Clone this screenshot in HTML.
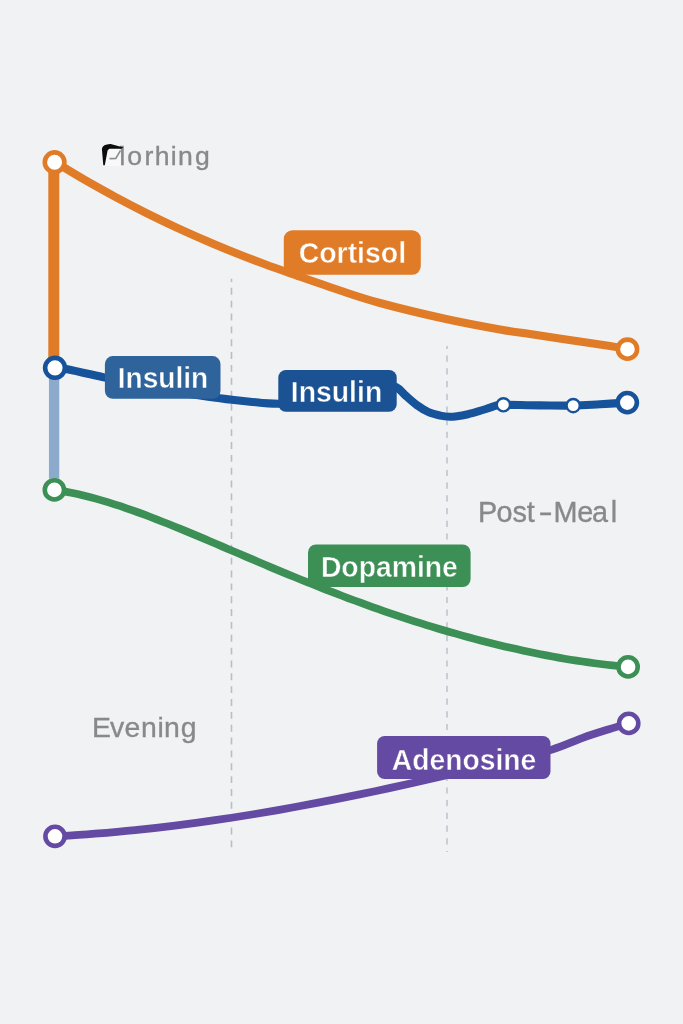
<!DOCTYPE html>
<html><head><meta charset="utf-8">
<style>
html,body{margin:0;padding:0;background:#f1f2f4;}
body{width:683px;height:1024px;overflow:hidden;}
svg{display:block}
text{font-family:"Liberation Sans",sans-serif;}
.lbl{font-weight:bold;font-size:30.4px;fill:#fff;}
.ax{font-size:28.4px;fill:#88888d;stroke:#88888d;stroke-width:0.35px;}
</style></head><body>
<svg width="683" height="1024" viewBox="0 0 683 1024">
<rect width="683" height="1024" fill="#f1f2f4"/>
<g stroke-width="1.6" fill="none">
<line x1="231.5" y1="278.8" x2="231.5" y2="852.2" stroke="#b5bec9" stroke-dasharray="6.9 5.95" stroke-dashoffset="3.8"/>
<line x1="447" y1="346" x2="447" y2="852" stroke="#bfc5cf" stroke-dasharray="6.2 6.5" stroke-dashoffset="3.1"/>
</g>
<!-- vertical connectors -->
<line x1="53.8" y1="165" x2="53.8" y2="367" stroke="#e07c28" stroke-width="11"/>
<line x1="54.1" y1="368" x2="54.1" y2="478.5" stroke="#8caacc" stroke-width="10.3"/>
<g fill="none" stroke-linecap="round" stroke-linejoin="round">
<path d="M55.0,162.0 C60.0,165.0 75.0,174.2 85.0,180.0 C95.0,185.7 105.0,191.3 115.0,196.7 C125.0,202.1 135.0,207.3 145.0,212.3 C155.0,217.3 165.0,222.1 175.0,226.8 C185.0,231.4 195.0,235.9 205.0,240.2 C215.0,244.6 225.0,248.7 235.0,252.7 C245.0,256.7 254.2,260.3 265.0,264.3 C275.8,268.3 287.5,272.3 300.0,276.7 C312.5,281.1 326.7,286.1 340.0,290.5 C353.3,294.9 362.3,298.2 380.0,303.0 C397.7,307.8 426.0,314.6 446.0,319.0 C466.0,323.4 486.0,327.0 500.0,329.5 C514.0,332.0 519.0,332.3 530.0,334.0 C541.0,335.7 552.7,337.6 566.0,339.6 C579.3,341.6 599.8,344.3 610.0,345.9 C620.2,347.5 624.6,348.6 627.5,349.2" stroke="#e07c28" stroke-width="8.1"/>
<path d="M55.0,367.8 C57.0,368.0 59.0,367.6 67.3,369.2 C75.6,370.8 91.1,374.5 104.9,377.6 C118.7,380.7 134.2,384.6 150.0,387.6 C165.8,390.6 188.3,393.8 200.0,395.6 C211.7,397.4 214.7,397.6 220.0,398.3 C225.3,399.0 227.0,399.2 232.0,399.8 C237.0,400.4 242.3,401.0 250.0,401.7 C257.7,402.4 266.7,403.8 278.4,403.8 C290.1,403.9 306.4,403.8 320.0,402.0 C333.6,400.2 349.2,395.7 360.0,393.0 C370.8,390.3 378.9,387.0 385.0,386.0 C391.1,385.0 393.0,385.7 396.4,387.2 C399.8,388.7 401.7,392.1 405.1,395.1 C408.5,398.1 413.0,402.3 416.9,405.1 C420.8,407.9 424.7,410.4 428.6,412.1 C432.5,413.9 436.7,414.8 440.3,415.6 C443.9,416.4 447.2,416.7 450.0,416.8 C452.8,416.9 454.0,416.6 457.0,416.2 C460.0,415.8 464.3,415.0 468.0,414.2 C471.7,413.4 475.3,412.3 479.0,411.2 C482.7,410.1 487.1,408.6 490.0,407.7 C492.9,406.8 494.2,406.0 496.4,405.5 C498.6,405.0 496.1,404.8 503.4,404.8 C510.7,404.8 528.4,405.3 540.0,405.4 C551.6,405.5 563.2,405.8 573.2,405.6 C583.2,405.4 591.0,404.7 600.0,404.2 C609.0,403.7 622.8,402.9 627.3,402.6" stroke="#17539a" stroke-width="8.1"/>
<path d="M54.5,489.9 L60.5,490.8 L66.5,491.9 L72.5,493.0 L78.5,494.3 L84.5,495.8 L90.5,497.3 L96.5,498.9 L102.5,500.6 L108.5,502.4 L114.5,504.3 L120.5,506.2 L126.5,508.3 L132.5,510.4 L138.5,512.5 L144.5,514.7 L150.5,517.0 L156.5,519.3 L162.5,521.7 L168.5,524.0 L174.5,526.5 L180.5,528.9 L186.5,531.4 L192.5,533.9 L198.5,536.4 L204.5,538.9 L210.5,541.5 L216.5,544.0 L222.5,546.6 L228.5,549.2 L234.5,551.7 L240.5,554.3 L246.5,556.9 L252.5,559.4 L258.5,562.0 L264.5,564.5 L270.5,567.1 L276.5,569.6 L282.5,572.1 L288.5,574.6 L294.5,577.0 L300.5,579.5 L306.5,581.9 L312.5,584.3 L318.5,586.7 L324.5,589.1 L330.5,591.4 L336.5,593.7 L342.5,596.0 L348.5,598.3 L354.5,600.5 L360.5,602.7 L366.5,604.9 L372.5,607.1 L378.5,609.2 L384.5,611.3 L390.5,613.3 L396.5,615.4 L402.5,617.4 L408.5,619.3 L414.5,621.3 L420.5,623.2 L426.5,625.1 L432.5,626.9 L438.5,628.7 L444.5,630.5 L450.5,632.2 L456.5,633.9 L462.5,635.6 L468.5,637.3 L474.5,638.9 L480.5,640.4 L486.5,642.0 L492.5,643.5 L498.5,644.9 L504.5,646.4 L510.5,647.8 L516.5,649.1 L522.5,650.5 L528.5,651.8 L534.5,653.0 L540.5,654.2 L546.5,655.4 L552.5,656.5 L558.5,657.6 L564.5,658.7 L570.5,659.7 L576.5,660.6 L582.5,661.5 L588.5,662.4 L594.5,663.2 L600.5,664.0 L606.5,664.7 L612.5,665.4 L618.5,666.0 L624.5,666.6 L628.1,666.9" stroke="#3c8f55" stroke-width="7.7"/>
<path d="M55.0,836.3 C58.3,836.1 68.3,835.6 75.0,835.1 C81.7,834.7 85.0,834.6 95.0,833.7 C105.0,832.9 121.7,831.5 135.0,830.1 C148.3,828.8 161.7,827.3 175.0,825.6 C188.3,823.9 201.7,822.1 215.0,820.2 C228.3,818.3 241.7,816.2 255.0,814.0 C268.3,811.8 281.7,809.4 295.0,807.0 C308.3,804.6 321.7,802.0 335.0,799.4 C348.3,796.8 361.7,794.0 375.0,791.2 C388.3,788.4 402.5,785.3 415.0,782.5 C427.5,779.7 435.8,777.7 450.0,774.5 C464.2,771.4 483.2,767.7 500.0,763.6 C516.8,759.5 536.7,754.4 550.5,750.1 C564.3,745.8 573.0,741.3 582.7,737.8 C592.5,734.3 601.3,731.6 609.0,729.2 C616.7,726.8 625.4,724.4 628.7,723.4" stroke="#654aa3" stroke-width="7.8"/>
</g>
<!-- markers -->
<g fill="#fff" stroke-width="4.6">
<circle cx="54.6" cy="162.2" r="9.8" stroke="#e07c28"/>
<circle cx="627.5" cy="349.2" r="9.6" stroke="#e07c28"/>
<circle cx="55" cy="367.8" r="9.9" stroke="#17539a"/>
<circle cx="627.3" cy="402.6" r="9.6" stroke="#17539a"/>
<circle cx="54.4" cy="489.9" r="9.6" stroke="#3c8f55"/>
<circle cx="628.1" cy="666.9" r="9.6" stroke="#3c8f55"/>
<circle cx="55" cy="836.3" r="9.6" stroke="#654aa3"/>
<circle cx="628.7" cy="723.4" r="9.6" stroke="#654aa3"/>
</g>
<g fill="#fff" stroke="#17539a" stroke-width="2.4">
<circle cx="503.4" cy="404.8" r="6.6"/>
<circle cx="573.2" cy="405.6" r="6.6"/>
</g>
<!-- labels -->
<rect x="283.8" y="230.2" width="137" height="44.5" rx="8.6" fill="#e07c28"/>
<text class="lbl" x="352.4" y="262.5" text-anchor="middle" textLength="107.5" lengthAdjust="spacingAndGlyphs" stroke="#e07c28" stroke-width="0.45">Cortisol</text>
<rect x="104.9" y="356.1" width="115.6" height="42.7" rx="8" fill="#2e639c"/>
<text class="lbl" x="163.0" y="388.0" text-anchor="middle" textLength="90.5" lengthAdjust="spacingAndGlyphs" stroke="#2e639c" stroke-width="0.45">Insulin</text>
<rect x="278.3" y="370" width="118.4" height="41.8" rx="7.5" fill="#1a5293"/>
<text class="lbl" x="336.5" y="402.4" text-anchor="middle" textLength="91.5" lengthAdjust="spacingAndGlyphs" stroke="#1a5293" stroke-width="0.45">Insulin</text>
<rect x="308" y="544.5" width="162.6" height="42.6" rx="8" fill="#3c8f55"/>
<text class="lbl" x="389.4" y="576.7" text-anchor="middle" textLength="137" lengthAdjust="spacingAndGlyphs" stroke="#3c8f55" stroke-width="0.45">Dopamine</text>
<rect x="377.1" y="736.1" width="173.4" height="42.9" rx="7.5" fill="#654aa3"/>
<text class="lbl" x="464.1" y="769.6" text-anchor="middle" textLength="144.5" lengthAdjust="spacingAndGlyphs" stroke="#654aa3" stroke-width="0.45">Adenosine</text>
<!-- axis labels -->
<text class="ax" x="102.6" y="165" style="font-size:28px">M<tspan style="font-size:26.6px" x="127.3 144.4 154.7 170.7 178.1 195.1">orhing</tspan></text>
<path d="M103.4,166 L107.2,150.5 L109.5,148.6 L120.7,148.6 L120.7,166 Z" fill="#f8f8f9"/>
<path d="M103.3,165.3 L101.9,149.1 C102.2,146.6 103.8,145.2 106,144.7 C107.6,144.2 109,143.9 110.6,143.9 L123.5,147.4 L121.2,148.8 L109.5,148.8 C108.3,149.2 107.6,150.2 107.4,151.5 L104.8,165.3 Z" fill="#0c0c0c"/>
<path d="M109.6,158.6 L115.8,158.4 L120.4,150.6" fill="none" stroke="#8b8b90" stroke-width="1.6"/>
<text class="ax" x="92 110 124.6 141.1 157.4 164.1 180.8" y="736.5">Evening</text>
<text class="ax" y="521.8" style="font-size:28.8px"><tspan x="478.1 496.4 512.4 526.8">Post</tspan><tspan x="538.5" textLength="14.2" lengthAdjust="spacingAndGlyphs">-</tspan><tspan x="553.6 577.2 592.1 610.7">Meal</tspan></text>
</svg>
</body></html>
